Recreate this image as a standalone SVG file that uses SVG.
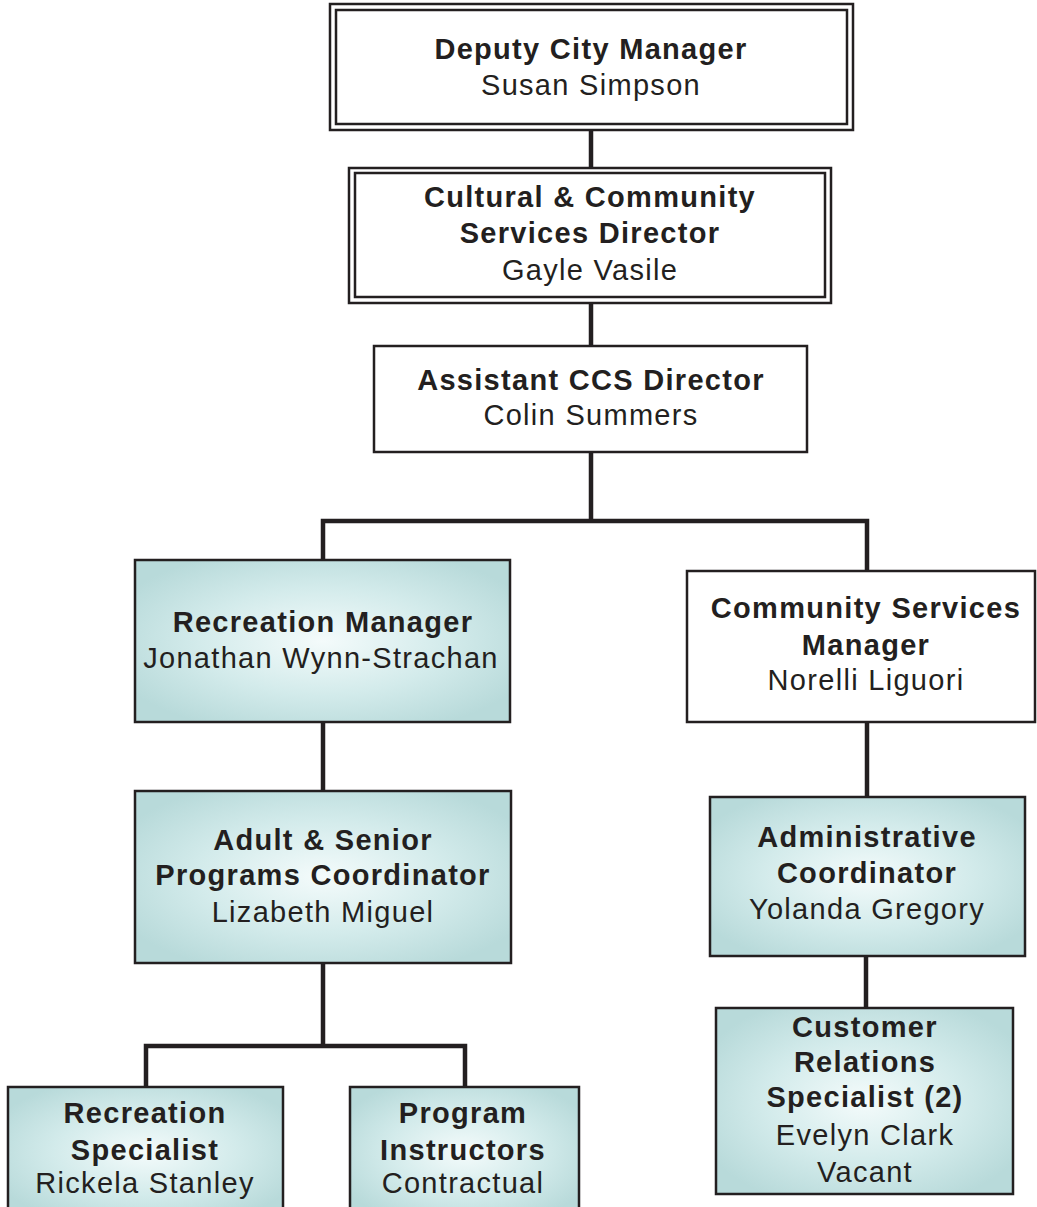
<svg xmlns="http://www.w3.org/2000/svg" width="1037" height="1207" viewBox="0 0 1037 1207">
  <defs>
    <radialGradient id="tealFill" cx="50%" cy="50%" r="60%">
      <stop offset="0" stop-color="#f4fbfb"/>
      <stop offset="0.55" stop-color="#d3ebeb"/>
      <stop offset="1" stop-color="#b8dada"/>
    </radialGradient>
    <style>
      .box { fill: #ffffff; stroke: #231f20; stroke-width: 2.5; }
      .teal { fill: url(#tealFill); stroke: #231f20; stroke-width: 2.5; }
      .dbl { fill: none; stroke: #231f20; stroke-width: 2.5; }
      .conn { fill: none; stroke: #231f20; stroke-width: 4.5; stroke-linejoin: miter; stroke-linecap: butt; }
      text { font-family: "Liberation Sans", Arial, sans-serif; font-size: 29px; fill: #231f20; text-anchor: middle; letter-spacing: 1.3px; }
      .t { font-weight: bold; }
    </style>
  </defs>
  <rect width="1037" height="1207" fill="#ffffff"/>

  <!-- reporting lines -->
  <g id="connectors">
    <path class="conn" d="M591 130 V168"/>
    <path class="conn" d="M591 303 V346"/>
    <path class="conn" d="M591 452 V521 M323 560 V521 H867 V572"/>
    <path class="conn" d="M323 722 V791"/>
    <path class="conn" d="M867 722 V797"/>
    <path class="conn" d="M323 963 V1046 M146 1087 V1046 H465 V1087"/>
    <path class="conn" d="M866 956 V1008"/>
  </g>

  <g id="deputy-city-manager">
    <rect class="box" x="330" y="4" width="523" height="126"/>
    <rect class="dbl" x="336" y="10" width="511" height="114"/>
    <text class="t" x="591" y="59">Deputy City Manager</text>
    <text x="591" y="95">Susan Simpson</text>
  </g>

  <g id="ccs-director">
    <rect class="box" x="349" y="168" width="482" height="135"/>
    <rect class="dbl" x="355" y="173" width="470" height="124"/>
    <text class="t" x="590" y="207">Cultural &amp; Community</text>
    <text class="t" x="590" y="243">Services Director</text>
    <text x="590" y="280">Gayle Vasile</text>
  </g>

  <g id="assistant-ccs-director">
    <rect class="box" x="374" y="346" width="433" height="106"/>
    <text class="t" x="591" y="390">Assistant CCS Director</text>
    <text x="591" y="425">Colin Summers</text>
  </g>

  <g id="recreation-manager">
    <rect class="teal" x="135" y="560" width="375" height="162"/>
    <text class="t" x="323" y="632">Recreation Manager</text>
    <text x="321" y="668">Jonathan Wynn-Strachan</text>
  </g>

  <g id="community-services-manager">
    <rect class="box" x="687" y="571" width="348" height="151"/>
    <text class="t" x="866" y="618">Community Services</text>
    <text class="t" x="866" y="655">Manager</text>
    <text x="866" y="690">Norelli Liguori</text>
  </g>

  <g id="adult-senior-coordinator">
    <rect class="teal" x="135" y="791" width="376" height="172"/>
    <text class="t" x="323" y="850">Adult &amp; Senior</text>
    <text class="t" x="323" y="885">Programs Coordinator</text>
    <text x="323" y="922">Lizabeth Miguel</text>
  </g>

  <g id="administrative-coordinator">
    <rect class="teal" x="710" y="797" width="315" height="159"/>
    <text class="t" x="867" y="847">Administrative</text>
    <text class="t" x="867" y="883">Coordinator</text>
    <text x="867" y="919">Yolanda Gregory</text>
  </g>

  <g id="recreation-specialist">
    <rect class="teal" x="8" y="1087" width="275" height="130"/>
    <text class="t" x="145" y="1123">Recreation</text>
    <text class="t" x="145" y="1160">Specialist</text>
    <text x="145" y="1193">Rickela Stanley</text>
  </g>

  <g id="program-instructors">
    <rect class="teal" x="350" y="1087" width="229" height="130"/>
    <text class="t" x="463" y="1123">Program</text>
    <text class="t" x="463" y="1160">Instructors</text>
    <text x="463" y="1193">Contractual</text>
  </g>

  <g id="customer-relations-specialist">
    <rect class="teal" x="716" y="1008" width="297" height="186"/>
    <text class="t" x="865" y="1037">Customer</text>
    <text class="t" x="865" y="1072">Relations</text>
    <text class="t" x="865" y="1107">Specialist (2)</text>
    <text x="865" y="1145">Evelyn Clark</text>
    <text x="865" y="1182">Vacant</text>
  </g>
</svg>
